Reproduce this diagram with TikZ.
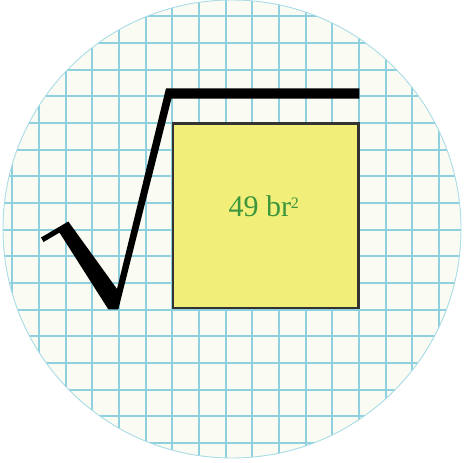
\documentclass[tikz,border=0pt]{standalone}
\usepackage{fontspec}
\setmainfont{Liberation Serif}
\definecolor{gridblue}{RGB}{142,208,222}
\definecolor{rimblue}{RGB}{168,220,230}
\definecolor{paper}{RGB}{250,252,243}
\definecolor{sqyellow}{RGB}{242,238,122}
\definecolor{sqedge}{RGB}{51,51,51}
\definecolor{lblgreen}{RGB}{60,150,60}
\tikzset{
  gridline/.style={draw=gridblue, line width=2.2pt},
  disc/.style={fill=paper},
  rim/.style={draw=rimblue, line width=0.9pt},
  squarebox/.style={draw=sqedge, fill=sqyellow, line width=2.4pt, inner sep=0pt,
    minimum width=185.6pt, minimum height=184.4pt},
  radical/.style={fill=black},
  lbl/.style={text=lblgreen, inner sep=0pt, font=\fontsize{30}{30}\selectfont}
}
\begin{document}
\begin{tikzpicture}[x=1pt,y=-1pt]
\useasboundingbox (0,0) rectangle (463,463);
\coordinate (c) at (232,229);
\fill[disc] (c) circle[radius=229];
\begin{scope}
  \clip (c) circle[radius=229];
  \foreach \k in {0,...,17} {
    \draw[gridline] ({12.3+26.667*\k},0) -- ({12.3+26.667*\k},463);
    \draw[gridline] (0,{16.3+26.667*\k}) -- (463,{16.3+26.667*\k});
  }
\end{scope}
\draw[rim] (c) circle[radius=229];
\node[squarebox] (sq) at (265.5,215.5) {};
\fill[radical] (41,237.5) -- (68.3,221.5) -- (117,289) -- (166,88.3) -- (359.3,88.3)
  -- (359.3,98.5) -- (171.5,98.5) -- (118.3,309.3) -- (108.3,309.3)
  -- (59.5,232.6) -- (43.5,242) -- cycle;
\node[lbl, anchor=base west] (area) at (228.3,216.7)
  {49 br\raisebox{8.5pt}{\fontsize{16}{16}\selectfont 2}};
\end{tikzpicture}
\end{document}
